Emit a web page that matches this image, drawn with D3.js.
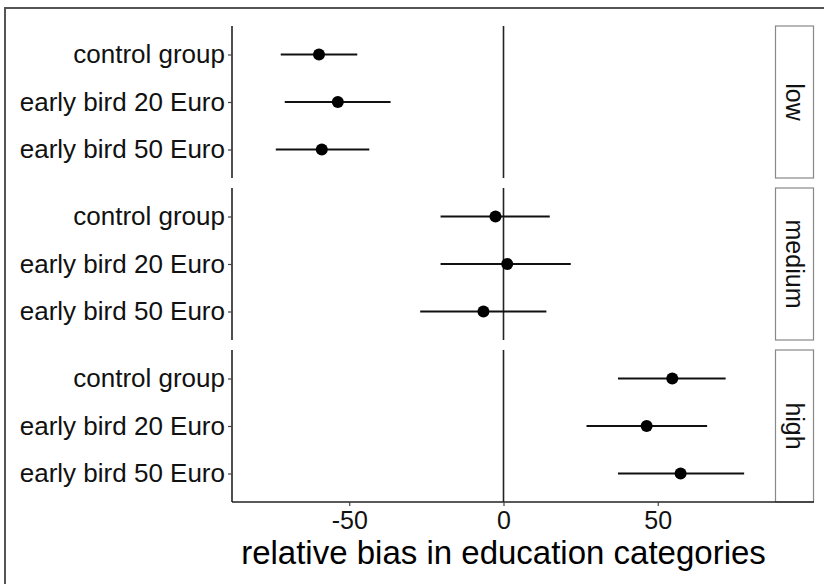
<!DOCTYPE html>
<html>
<head>
<meta charset="utf-8">
<script src="https://cdn.jsdelivr.net/npm/d3@7"></script>
<style>
  html, body { margin: 0; padding: 0; background: #fff; }
  svg { display: block; font-family: "Liberation Sans", Arial, sans-serif; }
</style>
</head>
<body>
<svg id="chart" width="824" height="584"></svg>
<script>
// ---- data ----
const panels = ["low", "medium", "high"];
const groups = ["control group", "early bird 20 Euro", "early bird 50 Euro"];
const estLow    = [-59.8, -53.7, -58.9];
const lowerLow  = [-72.2, -70.9, -73.8];
const upperLow  = [-47.4, -36.6, -43.5];
const estMed    = [-2.6, 1.2, -6.5];
const lowerMed  = [-20.4, -20.4, -27.0];
const upperMed  = [15.0, 21.8, 13.9];
const estHigh   = [54.7, 46.4, 57.4];
const lowerHigh = [37.1, 26.9, 37.1];
const upperHigh = [72.0, 66.0, 78.0];
const xTicks = [-50, 0, 50];
const xTickLabels = ["-50", "0", "50"];
const xTitle = "relative bias in education categories";

const est = [estLow, estMed, estHigh];
const lower = [lowerLow, lowerMed, lowerHigh];
const upper = [upperLow, upperMed, upperHigh];

// ---- layout ----
const svg = d3.select("#chart");
const panelLeft = 232, panelRight = 775;
const stripRight = 814;
const panelTops = [26, 188, 350];
const panelH = 152;

// outer frame
svg.append("rect")
  .attr("x", 5).attr("y", 8)
  .attr("width", 840).attr("height", 600)
  .attr("fill", "none").attr("stroke", "#555").attr("stroke-width", 2);

const x = d3.scaleLinear().domain([-88, 88]).range([panelLeft, panelRight]);

panels.forEach((p, pi) => {
  const top = panelTops[pi];
  const y = d3.scalePoint().domain(groups).range([top, top + panelH]).padding(0.6);
  const g = svg.append("g");

  // zero line
  g.append("line")
    .attr("x1", x(0)).attr("x2", x(0))
    .attr("y1", top).attr("y2", top + panelH)
    .attr("stroke", "#222").attr("stroke-width", 1.6);

  // y axis
  const yAxis = d3.axisLeft(y).tickSize(4).tickPadding(3);
  const ya = g.append("g").attr("transform", `translate(${panelLeft},0)`).call(yAxis);
  ya.select(".domain").attr("stroke", "#222").attr("stroke-width", 1.6)
    .attr("d", `M0,${top}V${top + panelH}`);
  ya.selectAll(".tick line").attr("stroke", "#444").attr("stroke-width", 1.2);
  ya.selectAll(".tick text")
    .attr("font-size", 26).attr("fill", "#111")
    .attr("font-family", "'Liberation Sans', Arial, sans-serif");

  // error bars
  g.selectAll("line.err").data(groups).join("line")
    .attr("class", "err")
    .attr("x1", (d, i) => x(lower[pi][i]))
    .attr("x2", (d, i) => x(upper[pi][i]))
    .attr("y1", d => y(d)).attr("y2", d => y(d))
    .attr("stroke", "#111").attr("stroke-width", 2);

  // points
  g.selectAll("circle").data(groups).join("circle")
    .attr("cx", (d, i) => x(est[pi][i]))
    .attr("cy", d => y(d))
    .attr("r", 6).attr("fill", "#000");

  // strip
  g.append("rect")
    .attr("x", panelRight + 0.5).attr("y", top)
    .attr("width", stripRight - panelRight - 1).attr("height", panelH)
    .attr("fill", "#fff").attr("stroke", "#888").attr("stroke-width", 1.2);
  g.append("text")
    .attr("transform", `translate(${(panelRight + stripRight) / 2},${top + panelH / 2}) rotate(90)`)
    .attr("text-anchor", "middle").attr("dy", "0.35em")
    .attr("font-size", 25).attr("fill", "#111")
    .text(p);

  // x axis on last panel
  if (pi === panels.length - 1) {
    const xAxis = d3.axisBottom(x).tickValues(xTicks)
      .tickFormat((d, i) => xTickLabels[i]).tickSize(4).tickPadding(5);
    const xa = g.append("g").attr("transform", `translate(0,${top + panelH})`).call(xAxis);
    xa.select(".domain").attr("stroke", "#222").attr("stroke-width", 1.6)
      .attr("d", `M${panelLeft},0H${stripRight}`);
    xa.selectAll(".tick line").attr("stroke", "#444").attr("stroke-width", 1.2);
    xa.selectAll(".tick text")
      .attr("font-size", 25).attr("fill", "#111")
      .attr("font-family", "'Liberation Sans', Arial, sans-serif");
    svg.append("text")
      .attr("x", (panelLeft + panelRight) / 2).attr("y", 564)
      .attr("text-anchor", "middle")
      .attr("font-size", 33).attr("fill", "#000")
      .text(xTitle);
  }
});
</script>
</body>
</html>
